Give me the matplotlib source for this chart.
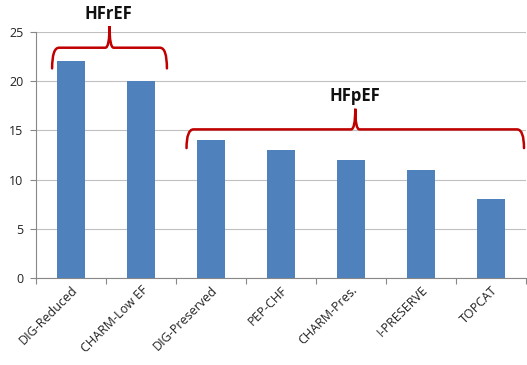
import numpy as np
import matplotlib
matplotlib.use("Agg")
import matplotlib.pyplot as plt
from matplotlib.path import Path
from matplotlib.patches import PathPatch

# data
trials = ["DIG-Reduced", "CHARM-Low EF", "DIG-Preserved", "PEP-CHF",
          "CHARM-Pres.", "I-PRESERVE", "TOPCAT"]
values = [22, 20, 14, 13, 12, 11, 8]
yticks = [0, 5, 10, 15, 20, 25]

plt.rcParams["font.family"] = ["Open Sans", "DejaVu Sans"]

fig = plt.figure(figsize=(5.27, 3.65), dpi=100)
ax = fig.add_axes([0.0683, 0.2384, 0.93, 0.674])

x = np.arange(len(trials))
ax.bar(x, values, width=0.4, color="#4F81BD", zorder=3)

ax.set_xlim(-0.5, len(trials) - 0.5)
ax.set_ylim(0, 25)
ax.set_yticks(yticks)
ax.yaxis.grid(True, color="#C0C0C0", lw=0.8, zorder=0)
ax.tick_params(axis="y", length=4, color="#888888", labelsize=9,
               labelcolor="#222222", pad=5)

# category boundary ticks, labels centred under bars
ax.set_xticks(np.arange(-0.5, len(trials)), minor=False)
ax.set_xticklabels([])
ax.set_xticks(x, minor=True)
ax.set_xticklabels(trials, minor=True, rotation=45, ha="right",
                   rotation_mode="anchor", fontsize=9, color="#222222")
ax.tick_params(axis="x", which="major", length=4, color="#888888")
ax.tick_params(axis="x", which="minor", length=0, pad=4)

for s in ("top", "right"):
    ax.spines[s].set_visible(False)
ax.spines["left"].set_color("#888888")
ax.spines["bottom"].set_color("#888888")


def brace(ax, x0, x1, ytip, ybar, ypeak, rx=0.1):
    xm = (x0 + x1) / 2
    verts = [(x0, ytip), (x0, ybar), (x0 + rx, ybar),
             (xm - rx * 0.6, ybar),
             (xm, ybar), (xm, ypeak),
             (xm, ybar), (xm + rx * 0.6, ybar),
             (x1 - rx, ybar),
             (x1, ybar), (x1, ytip)]
    codes = [Path.MOVETO, Path.CURVE3, Path.CURVE3,
             Path.LINETO,
             Path.CURVE3, Path.CURVE3,
             Path.CURVE3, Path.CURVE3,
             Path.LINETO,
             Path.CURVE3, Path.CURVE3]
    p = PathPatch(Path(verts, codes), fill=False, ec="#C00000", lw=1.8,
                  clip_on=False, zorder=5, capstyle="round")
    ax.add_patch(p)


brace(ax, -0.27, 1.37, 21.3, 23.4, 25.6)
ax.text(0.53, 25.9, "HFrEF", ha="center", va="bottom", fontsize=12,
        fontweight="bold", color="#111111", clip_on=False)

brace(ax, 1.65, 6.47, 13.2, 15.1, 17.2)
ax.text(4.06, 17.6, "HFpEF", ha="center", va="bottom", fontsize=12,
        fontweight="bold", color="#111111")

fig.savefig("out.png", dpi=100)
